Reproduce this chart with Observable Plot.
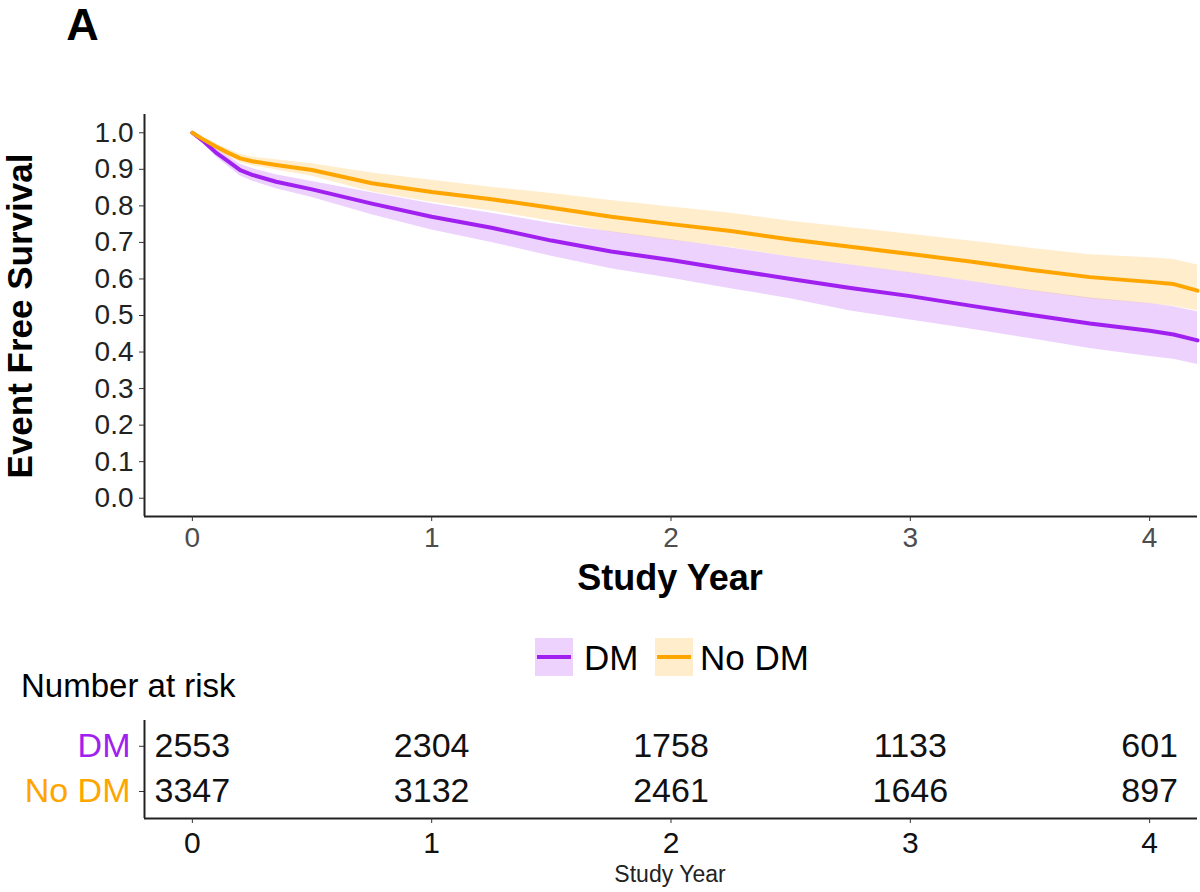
<!DOCTYPE html>
<html><head><meta charset="utf-8">
<script src="https://cdn.jsdelivr.net/npm/d3@7"></script>
<script src="https://cdn.jsdelivr.net/npm/@observablehq/plot@0.6"></script>
<style>
body{margin:0;background:#fff;font-family:"Liberation Sans",Arial,sans-serif;}
#wrap{position:relative;width:1200px;height:892px;overflow:hidden;background:#fff;}
.abs{position:absolute;white-space:nowrap;line-height:1;}
#wrap svg{position:absolute;left:0;}
</style></head><body><div id="wrap"></div>
<script>
// ---- data ----
const times     = [0, 0.05, 0.1, 0.15, 0.2, 0.25, 0.35, 0.5, 0.75, 1.0, 1.25, 1.5, 1.75, 2.0, 2.25, 2.5, 2.75, 3.0, 3.25, 3.5, 3.75, 4.0, 4.1, 4.2];
const noDmSurv  = [1.0, 0.980, 0.962, 0.945, 0.930, 0.922, 0.912, 0.898, 0.862, 0.838, 0.818, 0.795, 0.770, 0.750, 0.731, 0.708, 0.688, 0.668, 0.648, 0.625, 0.605, 0.592, 0.586, 0.568];
const noDmUpper = [1.0, 0.986, 0.970, 0.955, 0.941, 0.934, 0.926, 0.915, 0.890, 0.870, 0.851, 0.834, 0.815, 0.797, 0.780, 0.758, 0.740, 0.722, 0.704, 0.684, 0.666, 0.658, 0.653, 0.638];
const noDmLower = [1.0, 0.974, 0.954, 0.935, 0.919, 0.910, 0.898, 0.881, 0.838, 0.810, 0.786, 0.758, 0.728, 0.706, 0.686, 0.660, 0.638, 0.616, 0.594, 0.568, 0.546, 0.532, 0.525, 0.513];
const dmSurv    = [1.0, 0.975, 0.945, 0.922, 0.898, 0.885, 0.866, 0.845, 0.806, 0.770, 0.740, 0.705, 0.675, 0.652, 0.625, 0.600, 0.575, 0.553, 0.527, 0.502, 0.478, 0.458, 0.448, 0.432];
const dmUpper   = [1.0, 0.983, 0.956, 0.936, 0.914, 0.902, 0.885, 0.867, 0.836, 0.806, 0.780, 0.752, 0.729, 0.707, 0.685, 0.660, 0.638, 0.617, 0.594, 0.569, 0.548, 0.533, 0.524, 0.510];
const dmLower   = [1.0, 0.967, 0.934, 0.908, 0.882, 0.868, 0.847, 0.823, 0.776, 0.734, 0.700, 0.662, 0.628, 0.602, 0.573, 0.546, 0.512, 0.488, 0.463, 0.437, 0.410, 0.388, 0.380, 0.366];

const groups     = ["DM", "No DM"];
const groupColors = ["#A020F0", "#FFA500"];
const riskTimes  = [0, 1, 2, 3, 4];
const riskDM     = [2553, 2304, 1758, 1133, 601];
const riskNoDM   = [3347, 3132, 2461, 1646, 897];
const yTicks     = [0, 0.1, 0.2, 0.3, 0.4, 0.5, 0.6, 0.7, 0.8, 0.9, 1.0];
const xTicks     = [0, 1, 2, 3, 4];

// ---- tables built from arrays ----
const dmRows = times.map((t, i) => ({t, s: dmSurv[i], lo: dmLower[i], hi: dmUpper[i]}));
const noRows = times.map((t, i) => ({t, s: noDmSurv[i], lo: noDmLower[i], hi: noDmUpper[i]}));
const riskRows = [
  ...riskTimes.map((t, i) => ({t, row: 0, n: riskDM[i]})),
  ...riskTimes.map((t, i) => ({t, row: 1, n: riskNoDM[i]}))
];

const FONT = "Liberation Sans, Arial, Helvetica, sans-serif";
const xDomain = [-0.2, 4.2];
const wrap = document.getElementById("wrap");

// ---- main KM plot ----
const main = Plot.plot({
  width: 1200, height: 600,
  marginLeft: 144, marginRight: 3, marginTop: 114, marginBottom: 84,
  style: {fontFamily: FONT, background: "transparent", overflow: "visible"},
  x: {domain: xDomain},
  y: {domain: [-0.05, 1.05]},
  marks: [
    Plot.areaY(dmRows, {x: "t", y1: "lo", y2: "hi", fill: groupColors[0], fillOpacity: 0.2}),
    Plot.areaY(noRows, {x: "t", y1: "lo", y2: "hi", fill: groupColors[1], fillOpacity: 0.2}),
    Plot.line(dmRows, {x: "t", y: "s", stroke: groupColors[0], strokeWidth: 4}),
    Plot.line(noRows, {x: "t", y: "s", stroke: groupColors[1], strokeWidth: 4}),
    Plot.ruleX([xDomain[0]], {stroke: "#222", strokeWidth: 2}),
    Plot.ruleY([-0.05], {stroke: "#222", strokeWidth: 2}),
    Plot.axisY({ticks: yTicks, tickFormat: d3.format(".1f"), tickSize: 5, tickPadding: 6, fontSize: 28, fill: "#222", stroke: "#333", label: null}),
    Plot.axisX({ticks: xTicks, tickFormat: d3.format("d"), tickSize: 5, tickPadding: 6, fontSize: 28, fill: "#4d4d4d", stroke: "#333", label: null})
  ]
});
main.style.top = "0px";
wrap.appendChild(main);

// ---- risk table ----
const tTop = 700, tH = 192;
const rowStep = 45.2; // pixels between rows in table plot
const table = Plot.plot({
  width: 1200, height: tH,
  marginLeft: 144, marginRight: 3, marginTop: 20, marginBottom: 74,
  style: {fontFamily: FONT, background: "transparent", overflow: "visible"},
  x: {domain: xDomain},
  y: {domain: [-25.8 / rowStep, 1 + 27 / rowStep], reverse: true},
  marks: [
    Plot.text(riskRows, {x: "t", y: "row", text: d => String(d.n), fontSize: 34, fill: "#111"}),
    Plot.text([groups[0]], {y: () => 0, frameAnchor: "left", dx: -14, textAnchor: "end", text: d => d, fontSize: 34, fill: groupColors[0]}),
    Plot.text([groups[1]], {y: () => 1, frameAnchor: "left", dx: -14, textAnchor: "end", text: d => d, fontSize: 34, fill: groupColors[1]}),
    Plot.axisY({ticks: [0, 1], tickFormat: () => "", tickSize: 5, stroke: "#333", label: null}),
    Plot.ruleX([xDomain[0]], {stroke: "#222", strokeWidth: 2}),
    Plot.ruleY([1 + 27 / rowStep], {stroke: "#222", strokeWidth: 2}),
    Plot.axisX({ticks: xTicks, tickFormat: d3.format("d"), tickSize: 5, tickPadding: 8, fontSize: 30, fill: "#111", stroke: "#333", label: null})
  ]
});
table.style.top = tTop + "px";
wrap.appendChild(table);

// ---- text & legend ----
function addText(txt, x, y, size, opts = {}) {
  const d = document.createElement("div");
  d.className = "abs";
  d.textContent = txt;
  d.style.left = x + "px";
  d.style.top = y + "px";
  d.style.fontSize = size + "px";
  d.style.fontWeight = opts.bold ? "bold" : "normal";
  d.style.color = opts.color || "#000";
  d.style.transform = opts.transform || "translate(-50%,-50%)";
  wrap.appendChild(d);
  return d;
}
addText("A", 82.5, 24, 45, {bold: true});
addText("Event Free Survival", 19, 316, 35, {bold: true, transform: "translate(-50%,-50%) rotate(-90deg)"});
addText("Study Year", 670, 578, 36, {bold: true});
addText("Number at risk", 21, 685, 33, {transform: "translate(0,-50%)"});
addText("Study Year", 670, 874, 23, {color: "#222"});

// legend
const legendItems = [
  {label: groups[0], color: groupColors[0], keyX: 535, textX: 584},
  {label: groups[1], color: groupColors[1], keyX: 655, textX: 700}
];
legendItems.forEach(it => {
  const key = document.createElement("div");
  key.className = "abs";
  key.style.left = it.keyX + "px";
  key.style.top = "638px";
  key.style.width = "38px";
  key.style.height = "38px";
  key.style.background = d3.color(it.color).copy({opacity: 0.2}).formatRgb();
  const ln = document.createElement("div");
  ln.style.position = "absolute";
  ln.style.left = "2px";
  ln.style.right = "2px";
  ln.style.top = "17px";
  ln.style.height = "4px";
  ln.style.background = it.color;
  key.appendChild(ln);
  wrap.appendChild(key);
  addText(it.label, it.textX, 657, 35, {transform: "translate(0,-50%)"});
});
</script>
</body></html>
